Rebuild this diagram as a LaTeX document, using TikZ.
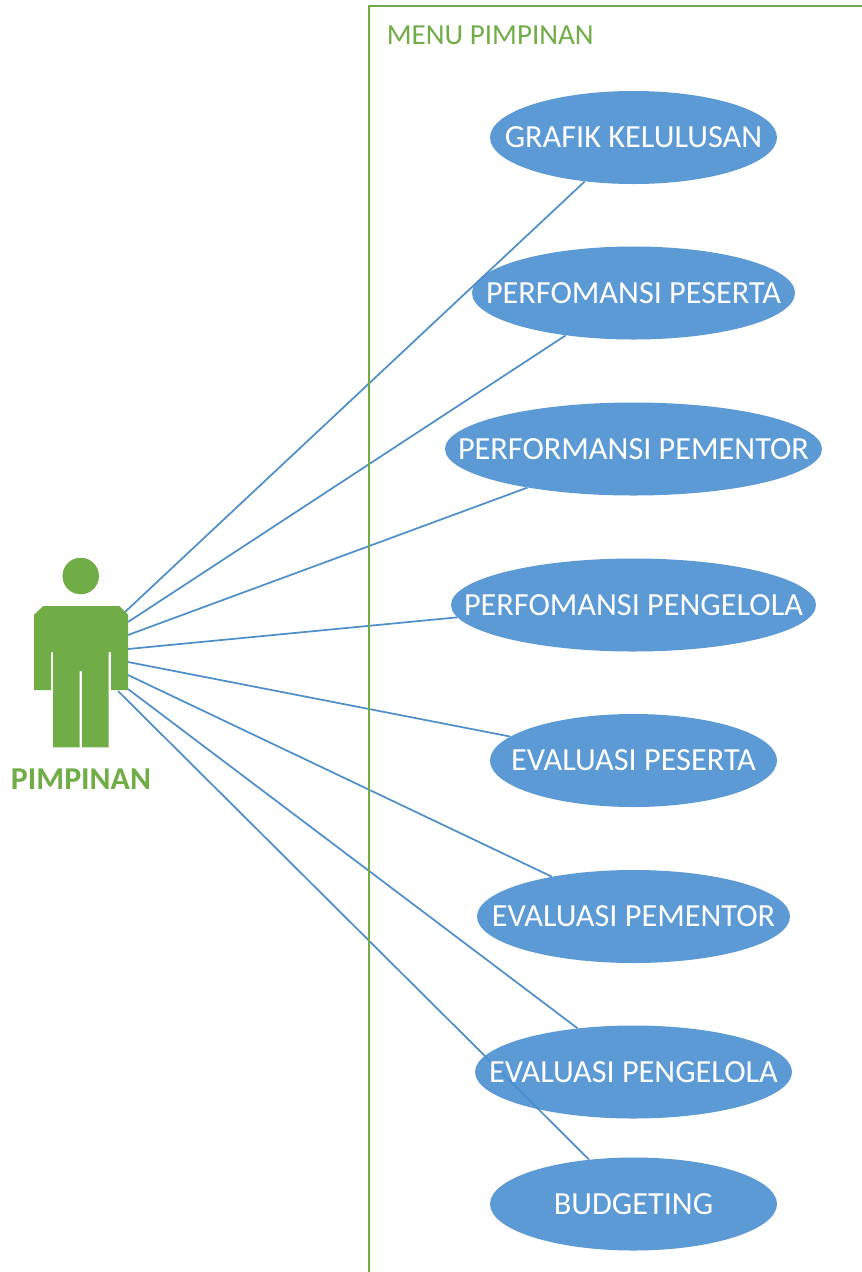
\documentclass[tikz,border=0pt]{standalone}
\usepackage{fontspec}
\setmainfont{Carlito}
\usetikzlibrary{backgrounds,shapes.geometric}
\definecolor{menuGreen}{HTML}{70AD47}
\definecolor{caseBlue}{HTML}{498FD0}
\definecolor{lineBlue}{HTML}{4F8FC9}
\newcommand{\casetext}[1]{\raisebox{-1.8pt}{\makebox[0pt]{#1}}}

\begin{document}
\begin{tikzpicture}
    [x=0.75pt,y=-0.75pt,
      usecase/.style={ellipse,inner sep=0pt,minimum height=69.75pt,
        fill=caseBlue,fill opacity=0.9,text opacity=1,text=white,
        font=\fontsize{24.2}{28}\selectfont},
      link/.style={draw=lineBlue,line width=1.3pt},
      label/.style={text=menuGreen,inner sep=0pt}
    ]
    \useasboundingbox (0,0) rectangle (862,1272);

    \coordinate (fBottom) at (369,1273);
    \coordinate (fCorner) at (369,6);
    \coordinate (fRight) at (863,6);
    \draw [menuGreen,line width=1.5pt] (fBottom) -- (fCorner) -- (fRight);
    \node [label,anchor=west,font=\fontsize{21.8}{26}\selectfont] (menu) at (386.5,35.5) {MENU PIMPINAN};

    \node [usecase,minimum width=215.25pt] (grafik) at (633.5,137.5) {\casetext{GRAFIK KELULUSAN}};
    \node [usecase,minimum width=242.25pt] (pPeserta) at (633.5,293) {\casetext{PERFOMANSI PESERTA}};
    \node [usecase,minimum width=282.75pt] (pPementor) at (633.5,449) {\casetext{PERFORMANSI PEMENTOR}};
    \node [usecase,minimum width=273.75pt] (pPengelola) at (633.5,605) {\casetext{PERFOMANSI PENGELOLA}};
    \node [usecase,minimum width=215.25pt] (ePeserta) at (633.5,760.5) {\casetext{EVALUASI PESERTA}};
    \node [usecase,minimum width=234.75pt] (ePementor) at (633.5,916.5) {\casetext{EVALUASI PEMENTOR}};
    \node [usecase,minimum width=237.75pt] (ePengelola) at (633.5,1072) {\casetext{EVALUASI PENGELOLA}};
    \node [usecase,minimum width=215.25pt] (budget) at (633.5,1204) {\casetext{BUDGETING}};

    \coordinate (a1) at (125,612);
    \coordinate (a2) at (128,622);
    \coordinate (a3) at (128,635);
    \coordinate (a4) at (128,649);
    \coordinate (a5) at (128,662);
    \coordinate (a6) at (128,675);
    \coordinate (a7) at (128,689);
    \coordinate (a8) at (118,691);

    \begin{scope}[on background layer]
      \draw [link] (a1) -- (grafik.222.5);
      \draw [link] (a2) -- (pPeserta.212.9);
      \draw [link] (a3) -- (pPementor.200.1);
      \draw [link] (a4) -- (pPengelola.184.6);
      \draw [link] (a5) -- (ePeserta.169.6);
      \draw [link] (a6) -- (ePementor.154.1);
      \draw [link] (a7) -- (ePengelola.142.1);
      \draw [link] (a8) -- (budget.135.3);
    \end{scope}

    \fill [menuGreen] (80.7,576) circle [radius=13.7pt];
    \fill [menuGreen] (43.3,606) -- (119.3,606) -- (128,614.7) -- (128,690) -- (111,690)
      -- (111,652) -- (108.7,652) -- (108.7,747.3) -- (82,747.3) -- (82,671) -- (79.7,671)
      -- (79.7,747.3) -- (53,747.3) -- (53,652) -- (51,652) -- (51,690) -- (34,690)
      -- (34,614.7) -- cycle;
    \node [label,font=\fontsize{23.9}{28}\selectfont\bfseries] (actor) at (81,779.5) {PIMPINAN};
  \end{tikzpicture}
\end{document}
